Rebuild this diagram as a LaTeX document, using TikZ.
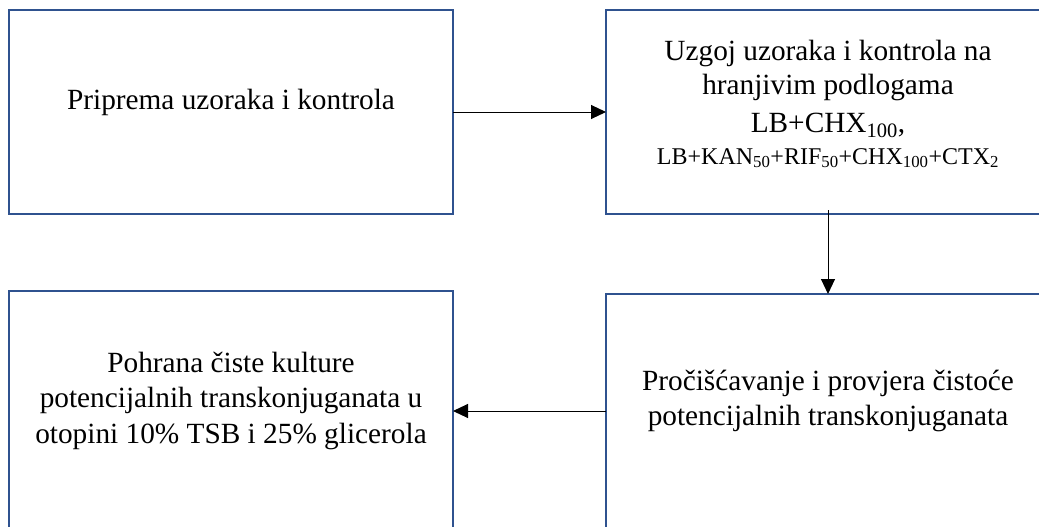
\documentclass[tikz,border=0pt]{standalone}
\usepackage{fontspec}
\setmainfont{Liberation Serif}
\usetikzlibrary{arrows.meta}
\definecolor{boxblue}{RGB}{47,82,143}
\begin{document}
\begin{tikzpicture}[x=1pt,y=-1pt,
  flowbox/.style={draw=boxblue, line width=2.2pt, minimum width=444pt, inner sep=0pt, outer sep=0pt, anchor=north west},
  big/.style={anchor=base, inner sep=0pt, font=\fontsize{29.3}{34.5}\selectfont},
  small/.style={anchor=base, inner sep=0pt, font=\fontsize{24}{28}\selectfont},
  conn/.style={-{Triangle[length=15pt,width=14pt]}, line width=1pt, draw=black}]
\useasboundingbox (0,0) rectangle (1039,527);
\clip (0,0) rectangle (1039,527);
% boxes
\node[flowbox, minimum height=204pt] (b1) at (9,10) {};
\node[flowbox, minimum height=204pt] (b2) at (606,10) {};
\node[flowbox, minimum height=260pt] (b3) at (606,294) {};
\node[flowbox, minimum height=260pt] (b4) at (9,291) {};
% texts
\node[big] (t1) at (231,110) {Priprema uzoraka i kontrola};
\node[big] (t2a) at (828,60) {Uzgoj uzoraka i kontrola na};
\node[big] (t2b) at (828,95) {hranjivim podlogama};
\node[big] (t2c) at (828,132) {LB+CHX\textsubscript{100},};
\node[small] (t2d) at (828,164) {LB+KAN\textsubscript{50}+RIF\textsubscript{50}+CHX\textsubscript{100}+CTX\textsubscript{2}};
\node[big] (t3a) at (828,390) {Pročišćavanje i provjera čistoće};
\node[big] (t3b) at (828,425) {potencijalnih transkonjuganata};
\node[big] (t4a) at (231,372) {Pohrana čiste kulture};
\node[big] (t4b) at (231,407.5) {potencijalnih transkonjuganata u};
\node[big] (t4c) at (231,443) {otopini 10\% TSB i 25\% glicerola};
% connectors
\draw[conn] (b1.east) -- (b2.west);
\draw[conn] ([yshift=4pt]b2.south) -- (b3.north);
\draw[conn] (b3.west |- 0,411) -- (b4.east |- 0,411);
\end{tikzpicture}
\end{document}
